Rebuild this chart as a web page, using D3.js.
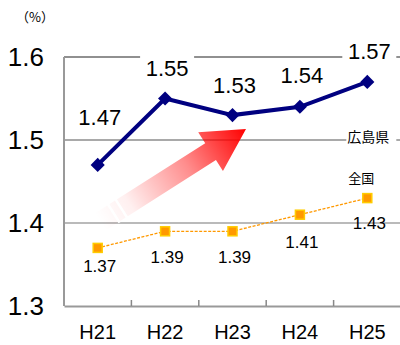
<!DOCTYPE html>
<html>
<head>
<script src="https://cdn.jsdelivr.net/npm/d3@7"></script>
<style>
  body { margin: 0; background: #fff; }
  svg { display: block; }
</style>
</head>
<body>
<svg></svg>
<script>
var years = ["H21", "H22", "H23", "H24", "H25"];
var hiroshima = [1.47, 1.55, 1.53, 1.54, 1.57];
var zenkoku = [1.37, 1.39, 1.39, 1.41, 1.43];
var yTicks = [1.3, 1.4, 1.5, 1.6];

var W = 400, H = 345;
var margin = {top: 57, right: 0, bottom: 39, left: 64};
var width = 337, height = H - margin.top - margin.bottom;

var svg = d3.select("svg").attr("width", W).attr("height", H);

var x = d3.scaleBand().domain(years).range([0, width]);
var y = d3.scaleLinear().domain([1.3, 1.6]).range([height, 0]);
var cx = function(d) { return x(d) + x.bandwidth() / 2; };

var g = svg.append("g").attr("transform", "translate(" + margin.left + "," + margin.top + ")");

// gridlines
g.selectAll(".grid").data(yTicks.slice(1)).enter().append("line")
  .attr("x1", 0).attr("x2", W)
  .attr("y1", function(d) { return y(d); }).attr("y2", function(d) { return y(d); })
  .attr("stroke", function(d) { return d == 1.6 ? "#222" : (d == 1.5 ? "#555" : "#777"); })
  .attr("stroke-width", 1.2);

// left axis + bottom axis
g.append("line").attr("x1", 0).attr("x2", 0).attr("y1", 0).attr("y2", height)
  .attr("stroke", "#999").attr("stroke-width", 2);
var xa = g.append("g").attr("transform", "translate(0," + height + ")")
  .call(d3.axisBottom(x).tickSize(0).tickPadding(19));
xa.select(".domain").attr("stroke", "#999").attr("stroke-width", 2);
xa.selectAll("text").attr("font-family", "Liberation Sans, Arial, sans-serif")
  .attr("font-size", 20).attr("fill", "#000");
// inward ticks between categories
g.selectAll(".xt").data(years.slice(1)).enter().append("line")
  .attr("x1", function(d) { return x(d); }).attr("x2", function(d) { return x(d); })
  .attr("y1", height - 6).attr("y2", height)
  .attr("stroke", "#888").attr("stroke-width", 1.5);

// y tick labels
svg.selectAll(".yl").data(yTicks).enter().append("text")
  .attr("x", 44).attr("y", function(d) { return margin.top + y(d) + 9; })
  .attr("text-anchor", "end")
  .attr("font-family", "Liberation Sans, Arial, sans-serif")
  .attr("font-size", 26)
  .text(function(d) { return d.toFixed(1); });

svg.append("text").attr("x", 35).attr("y", 22).attr("text-anchor", "middle")
  .attr("font-family", "Noto Sans CJK JP, sans-serif").attr("font-size", 13)
  .text("（%）");

// red gradient arrow
var defs = svg.append("defs");
var grad = defs.append("linearGradient").attr("id", "ag")
  .attr("x1", "0%").attr("x2", "100%").attr("y1", "0%").attr("y2", "0%");
grad.append("stop").attr("offset", "0%").attr("stop-color", "#ff0000").attr("stop-opacity", 0);
grad.append("stop").attr("offset", "20%").attr("stop-color", "#ff0000").attr("stop-opacity", 0.06);
grad.append("stop").attr("offset", "60%").attr("stop-color", "#ff0000").attr("stop-opacity", 0.45);
grad.append("stop").attr("offset", "100%").attr("stop-color", "#ff0000").attr("stop-opacity", 1);
var ax0 = 100, ay0 = 222, ax1 = 246, ay1 = 129;
var alen = Math.hypot(ax1 - ax0, ay1 - ay0);
var aang = Math.atan2(ay1 - ay0, ax1 - ax0) * 180 / Math.PI;
var headL = 42, headW = 23, shaftW = 10;
var arrow = svg.append("g").attr("transform", "translate(" + ax0 + "," + ay0 + ") rotate(" + aang + ")");
arrow.append("path")
  .attr("d", "M0," + (-shaftW) + "L" + (alen - headL) + "," + (-shaftW) + "L" + (alen - headL) + "," + (-headW) +
    "L" + alen + ",0L" + (alen - headL) + "," + headW + "L" + (alen - headL) + "," + shaftW + "L0," + shaftW + "Z")
  .attr("fill", "url(#ag)");
[15, 24].forEach(function(p) {
  arrow.append("rect").attr("x", p).attr("y", -shaftW - 1).attr("width", 2.5).attr("height", shaftW * 2 + 2).attr("fill", "#fff");
});

// 全国 series
var line = d3.line().x(function(d, i) { return cx(years[i]); }).y(function(d) { return y(d); });
g.append("path").datum(zenkoku).attr("d", line).attr("fill", "none")
  .attr("stroke", "#ff9900").attr("stroke-width", 1.3).attr("stroke-dasharray", "3,1.5");
g.selectAll(".zm").data(zenkoku).enter().append("rect")
  .attr("x", function(d, i) { return cx(years[i]) - 4.5; })
  .attr("y", function(d) { return y(d) - 4.5; })
  .attr("width", 9).attr("height", 9)
  .attr("fill", "#ff9900").attr("stroke", "#ffcc00").attr("stroke-width", 1.5);
var zOff = [24, 32, 32, 33, 31];
g.selectAll(".zl").data(zenkoku).enter().append("text")
  .attr("x", function(d, i) { return cx(years[i]) + 2; })
  .attr("y", function(d, i) { return y(d) + zOff[i]; })
  .attr("text-anchor", "middle")
  .attr("font-family", "Liberation Sans, Arial, sans-serif").attr("font-size", 17)
  .text(function(d) { return d.toFixed(2); });

// 広島県 series
g.append("path").datum(hiroshima).attr("d", line).attr("fill", "none")
  .attr("stroke", "#000080").attr("stroke-width", 4);
g.selectAll(".hm").data(hiroshima).enter().append("path")
  .attr("transform", function(d, i) { return "translate(" + cx(years[i]) + "," + y(d) + ") rotate(45)"; })
  .attr("d", d3.symbol(d3.symbolSquare, 100))
  .attr("fill", "#000080");
var hOff = [40, 23, 22, 24, 23];
var hl = g.selectAll(".hl").data(hiroshima).enter().append("g")
  .attr("transform", function(d, i) { return "translate(" + (cx(years[i]) + 2) + "," + (y(d) - hOff[i]) + ")"; });
hl.append("rect").attr("x", -27).attr("y", -22).attr("width", 54).attr("height", 28).attr("fill", "#fff");
hl.append("text").attr("text-anchor", "middle")
  .attr("font-family", "Liberation Sans, Arial, sans-serif").attr("font-size", 22)
  .text(function(d) { return d.toFixed(2); });

// series names
var n1 = g.append("g").attr("transform", "translate(" + (cx("H25") + 1) + "," + (y(1.5) + 2) + ")");
n1.append("rect").attr("x", -22).attr("y", -12).attr("width", 50).attr("height", 16).attr("fill", "#fff");
n1.append("text").attr("text-anchor", "middle")
  .attr("font-family", "Noto Sans CJK JP, sans-serif").attr("font-size", 14)
  .text("広島県");
g.append("text").attr("x", cx("H25") - 6).attr("y", y(1.5) + 43).attr("text-anchor", "middle")
  .attr("font-family", "Noto Sans CJK JP, sans-serif").attr("font-size", 13)
  .text("全国");
</script>
</body>
</html>
